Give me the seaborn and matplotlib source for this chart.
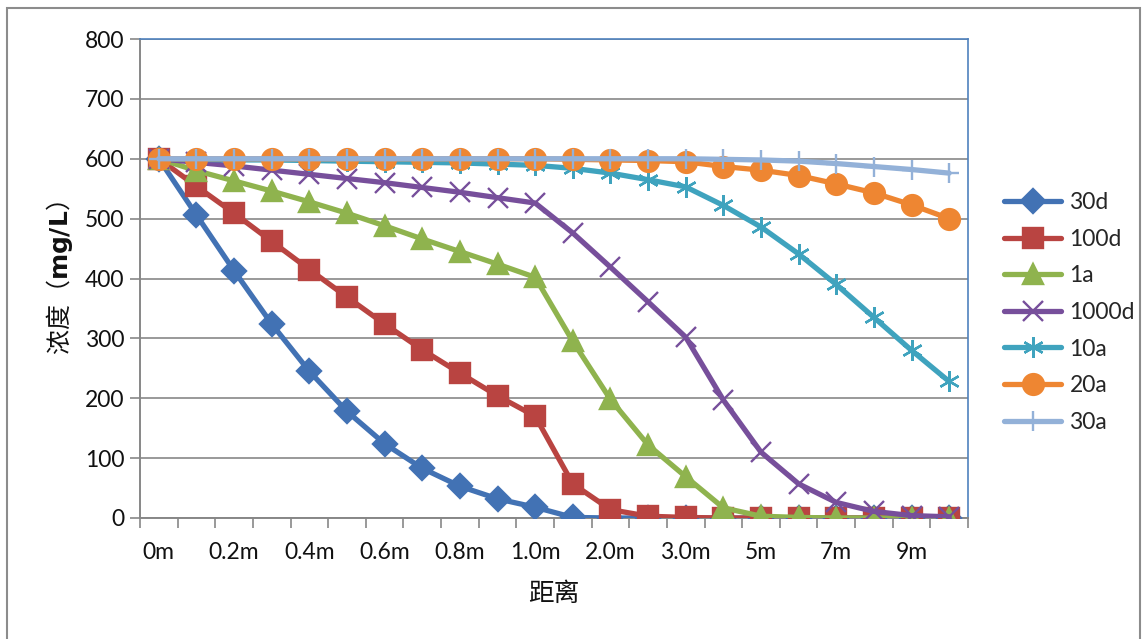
import matplotlib
matplotlib.use('Agg')
import matplotlib.pyplot as plt
import seaborn as sns
import pandas as pd
from matplotlib.patches import Rectangle

# distance categories (x axis)
categories = ['0m', '0.1m', '0.2m', '0.3m', '0.4m', '0.5m', '0.6m', '0.7m', '0.8m', '0.9m',
              '1.0m', '1.5m', '2.0m', '2.5m', '3.0m', '4m', '5m', '6m', '7m', '8m', '9m', '10m']

# concentration (mg/L) per time step
d30 = [600, 506, 413, 324, 245, 178, 124, 83, 53, 32, 18, 1, 0, 0, 0, 0, 0, 0, 0, 0, 0, 0]
d100 = [600, 554, 509, 462, 415, 369, 324, 281, 242, 204, 170, 57, 14, 3, 1, 0, 0, 0, 0, 0, 0, 0]
a1 = [600, 580, 563, 546, 528, 509, 488, 466, 445, 424, 402, 295, 198, 122, 69, 17, 3, 1, 0, 0, 0, 0]
d1000 = [600, 594, 588, 581, 574, 567, 560, 552, 544, 535, 526, 476, 419, 361, 302, 197, 110, 57, 26, 11, 4, 2]
a10 = [600, 599, 598, 598, 597, 596, 595, 594, 593, 591, 589, 584, 576, 565, 553, 522, 486, 441, 390, 335, 280, 228]
a20 = [600, 600, 600, 600, 600, 600, 600, 600, 600, 600, 600, 599, 598, 597, 595, 587, 581, 572, 558, 543, 523, 500]
a30 = [600, 600, 600, 600, 600, 600, 600, 600, 600, 600, 600, 600, 600, 600, 600, 599, 598, 596, 592, 587, 582, 576]

series_names = ['30d', '100d', '1a', '1000d', '10a', '20a', '30a']
series_values = [d30, d100, a1, d1000, a10, a20, a30]
colors = ['#4272B4', '#B94441', '#8FB34E', '#774F9B', '#3FA3BE', '#EE8632', '#93B1D8']
markers = ['D', 's', '^', 'x', (6, 2, 0), 'o', '+']
msizes = [12, 15, 15, 15, 15, 15, 15]

sns.set_theme(style='white')
font_main = ['Lato', 'Noto Sans CJK SC', 'DejaVu Sans']
plt.rcParams['font.family'] = font_main
plt.rcParams['mathtext.fontset'] = 'dejavusans'

fig = plt.figure(figsize=(11.48, 6.39), dpi=100)
ax = fig.add_axes([140 / 1148, 1 - 518 / 639, 828 / 1148, 479 / 639])

idx = list(range(len(categories)))
for name, vals, c, m, ms in zip(series_names, series_values, colors, markers, msizes):
    df = pd.DataFrame({'x': idx, 'y': vals})
    sns.lineplot(data=df, x='x', y='y', ax=ax, color=c, linewidth=3.8,
                 marker=m, markersize=ms, markeredgecolor=c, markerfacecolor=c,
                 markeredgewidth=1.7, label=name, zorder=3)

# axes styling
ax.set_xlim(-0.5, len(categories) - 0.5)
ax.set_ylim(0, 800)
ax.set_yticks(range(0, 801, 100))
ax.yaxis.grid(True, color='#878787', linewidth=1.2)
ax.set_axisbelow(True)
ax.tick_params(axis='y', which='major', length=7, width=1.2, color='#878787',
               direction='out', labelsize=16.5, pad=4, left=True, labelcolor='#111111')

ax.set_xticks(idx[::2])
ax.set_xticklabels(categories[::2])
ax.set_xticks([i - 0.5 for i in range(len(categories) + 1)], minor=True)
ax.tick_params(axis='x', which='major', length=0, labelsize=16.5, pad=17, labelcolor='#111111')
ax.tick_params(axis='x', which='minor', length=7, width=1.2, color='#878787',
               direction='out', bottom=True)

for s in ['left', 'bottom']:
    ax.spines[s].set_color('#878787')
    ax.spines[s].set_linewidth(1.4)
for s in ['top', 'right']:
    ax.spines[s].set_color('#4F81BD')
    ax.spines[s].set_linewidth(1.2)

ax.set_xlabel('距离', fontsize=18.5, family=['Noto Sans CJK SC'], labelpad=13, color='#111111')
ax.set_ylabel(r'浓度（$\mathbf{mg/L}$）', fontsize=18, family=['Noto Sans CJK SC', 'DejaVu Sans'],
              labelpad=7, color='#111111')

ax.legend(loc='upper left', bbox_to_anchor=(995 / 1148, 1 - 183 / 639),
          bbox_transform=fig.transFigure, frameon=False, fontsize=16.5,
          handlelength=2.5, handletextpad=0.35, labelspacing=0.68, borderaxespad=0)

# outer chart border
fig.patches.append(Rectangle((7 / 1148, -0.02), 1133 / 1148, 1 - 8 / 639 + 0.02,
                             transform=fig.transFigure, fill=False,
                             edgecolor='#8C8C8C', linewidth=1.5))

fig.savefig('out.png', dpi=100)
